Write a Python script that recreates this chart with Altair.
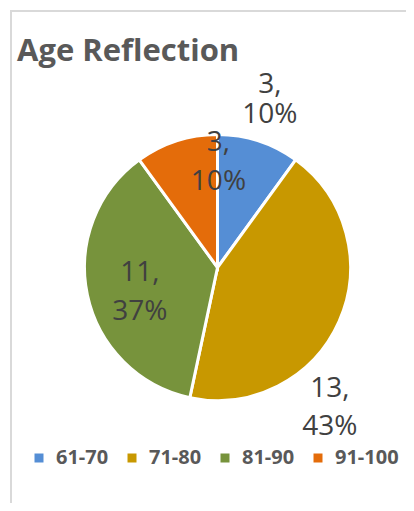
import altair as alt
import pandas as pd

# ---- data ----
groups = ["61-70", "71-80", "81-90", "91-100"]
counts = [3, 13, 11, 3]
title_text = "Age Reflection"

# ---- style ----
colors = ["#558ED5", "#C89800", "#77933C", "#E46C0A"]
label_radius = [177, 178, 81, 107]      # px from pie centre
label_shift = [-0.8, 26.9, -4.4, 18.5]  # degrees added to slice mid angle
label_gap = [30, 38, 39, 39]            # px between the two label lines
CX, CY, R = 209.5, 259.5, 133
LABEL_DY = 2
FONT = "Open Sans"

df = pd.DataFrame({
    "group": groups,
    "count": counts,
    "idx": list(range(len(groups))),
    "lr": label_radius,
    "ls": label_shift,
    "lg": label_gap,
})

arcs = alt.Chart(df).mark_arc(outerRadius=R, stroke="white", strokeWidth=3).encode(
    theta=alt.Theta("count:Q", stack=True),
    color=alt.Color(
        "group:N",
        scale=alt.Scale(domain=groups, range=colors),
        sort=groups,
        legend=alt.Legend(
            title=None, orient="none", direction="horizontal",
            legendX=21, legendY=440, symbolType="square", symbolSize=81,
            symbolStrokeWidth=0, labelFont=FONT, labelFontSize=20,
            labelFontWeight="bold", labelColor="#595959", labelOffset=7,
            columnPadding=2, gridAlign="all", padding=0,
        ),
    ),
    order=alt.Order("idx:Q"),
    x=alt.value(CX),
    y=alt.value(CY),
)

base = alt.Chart(df).transform_joinaggregate(
    total="sum(count)"
).transform_window(
    cum="sum(count)", sort=[alt.SortField("idx")]
).transform_calculate(
    ang=f"((datum.cum - datum.count / 2) / datum.total) * 2 * PI + datum.ls * PI / 180",
    lx=f"{CX} + datum.lr * sin(datum.ang)",
    ly=f"{CY + LABEL_DY} - datum.lr * cos(datum.ang)",
    y1="datum.ly - datum.lg / 2",
    y2="datum.ly + datum.lg / 2",
    line1="datum.count + ','",
    line2="round(datum.count / datum.total * 100) + '%'",
)

lab_style = dict(font=FONT, fontSize=28, color="#404040", align="center", baseline="middle")
lab1 = base.mark_text(**lab_style).encode(
    x=alt.X("lx:Q", scale=None, axis=None),
    y=alt.Y("y1:Q", scale=None, axis=None),
    text="line1:N",
)
lab2 = base.mark_text(**lab_style).encode(
    x=alt.X("lx:Q", scale=None, axis=None),
    y=alt.Y("y2:Q", scale=None, axis=None),
    text="line2:N",
)

tdf = pd.DataFrame({"t": [title_text]})
title = alt.Chart(tdf).mark_text(
    font=FONT, fontSize=31, fontWeight="bold", color="#595959",
    align="left", baseline="alphabetic",
).encode(x=alt.value(9), y=alt.value(53), text="t:N")

border_l = alt.Chart(tdf).mark_rule(color="#D9D9D9", strokeWidth=2).encode(
    x=alt.value(3), y=alt.value(2), y2=alt.value(700)
)
border_t = alt.Chart(tdf).mark_rule(color="#D9D9D9", strokeWidth=2).encode(
    x=alt.value(2), x2=alt.value(700), y=alt.value(3)
)

chart = alt.layer(border_l, border_t, arcs, lab1, lab2, title).properties(
    width=398, height=495,
    autosize=alt.AutoSizeParams(type="none"),
    padding=0,
).configure_view(stroke=None)

chart.save("out.html", embed_options={"renderer": "svg", "actions": False})
